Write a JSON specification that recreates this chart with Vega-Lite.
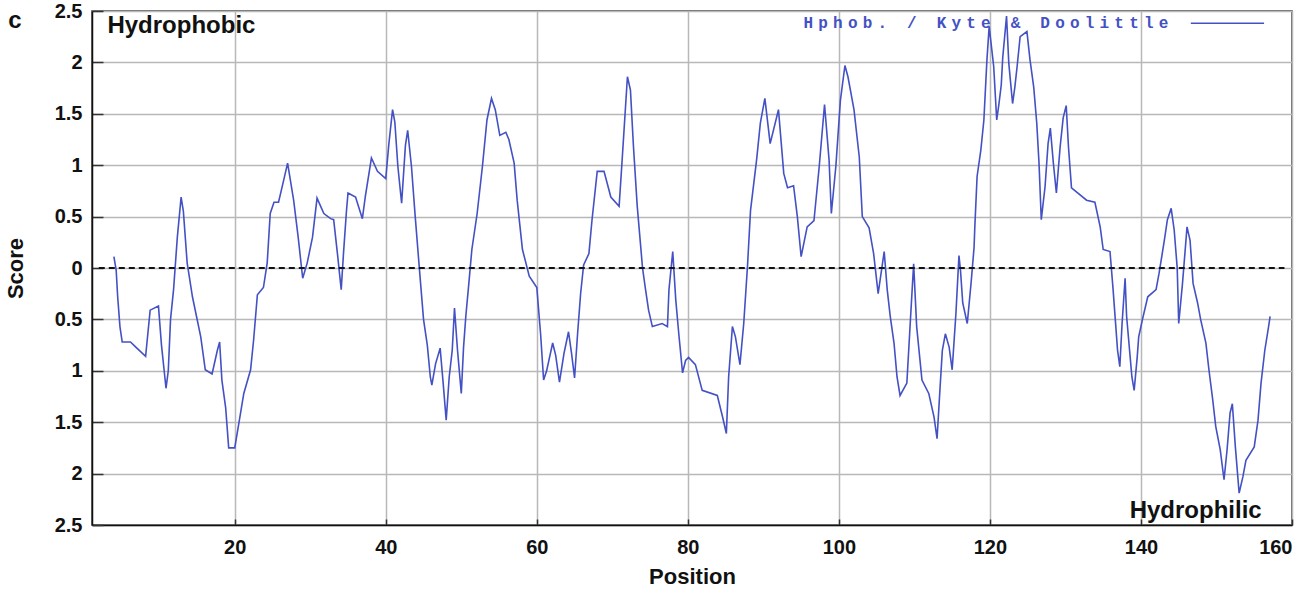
{
  "$schema": "https://vega.github.io/schema/vega-lite/v6.json",
  "width": 1200,
  "height": 514,
  "autosize": {"type": "none"},
  "padding": {"left": 92, "top": 11, "right": 18, "bottom": 66},
  "background": "white",
  "config": {
    "view": {"stroke": "#3a3a3a", "strokeWidth": 1.5},
    "font": "Liberation Sans"
  },
  "datasets": {
    "profile": [
      {"pos": 4.0, "score": 0.11}, {"pos": 4.3, "score": -0.02}, {"pos": 4.5, "score": -0.28}, {"pos": 4.8, "score": -0.57},
      {"pos": 5.1, "score": -0.72}, {"pos": 6.2, "score": -0.72}, {"pos": 6.9, "score": -0.77}, {"pos": 8.2, "score": -0.86},
      {"pos": 8.8, "score": -0.41}, {"pos": 9.9, "score": -0.37}, {"pos": 10.3, "score": -0.75}, {"pos": 10.9, "score": -1.17},
      {"pos": 11.2, "score": -1.0}, {"pos": 11.5, "score": -0.5}, {"pos": 11.9, "score": -0.21}, {"pos": 12.4, "score": 0.3},
      {"pos": 12.9, "score": 0.69}, {"pos": 13.2, "score": 0.55}, {"pos": 13.7, "score": 0.05}, {"pos": 14.4, "score": -0.28},
      {"pos": 15.5, "score": -0.67}, {"pos": 16.1, "score": -0.99}, {"pos": 17.0, "score": -1.03}, {"pos": 17.7, "score": -0.8},
      {"pos": 18.0, "score": -0.72}, {"pos": 18.3, "score": -1.09}, {"pos": 18.8, "score": -1.36}, {"pos": 19.2, "score": -1.75},
      {"pos": 20.0, "score": -1.75}, {"pos": 20.5, "score": -1.53}, {"pos": 21.2, "score": -1.22}, {"pos": 22.1, "score": -0.99},
      {"pos": 22.5, "score": -0.7}, {"pos": 23.0, "score": -0.26}, {"pos": 23.8, "score": -0.19}, {"pos": 24.3, "score": 0.05},
      {"pos": 24.7, "score": 0.53}, {"pos": 25.2, "score": 0.64}, {"pos": 25.8, "score": 0.64}, {"pos": 26.5, "score": 0.86},
      {"pos": 27.0, "score": 1.02}, {"pos": 27.8, "score": 0.66}, {"pos": 28.4, "score": 0.3}, {"pos": 29.0, "score": -0.1},
      {"pos": 29.6, "score": 0.05}, {"pos": 30.3, "score": 0.3}, {"pos": 30.9, "score": 0.68}, {"pos": 31.8, "score": 0.53},
      {"pos": 32.7, "score": 0.48}, {"pos": 33.1, "score": 0.47}, {"pos": 33.6, "score": 0.14}, {"pos": 34.1, "score": -0.21},
      {"pos": 34.4, "score": 0.14}, {"pos": 34.8, "score": 0.56}, {"pos": 35.0, "score": 0.73}, {"pos": 36.0, "score": 0.69},
      {"pos": 36.9, "score": 0.48}, {"pos": 37.3, "score": 0.7}, {"pos": 38.1, "score": 1.07}, {"pos": 38.9, "score": 0.94},
      {"pos": 40.0, "score": 0.87}, {"pos": 40.4, "score": 1.2}, {"pos": 40.9, "score": 1.54}, {"pos": 41.2, "score": 1.42},
      {"pos": 41.6, "score": 0.99}, {"pos": 42.1, "score": 0.63}, {"pos": 42.6, "score": 1.19}, {"pos": 42.9, "score": 1.34},
      {"pos": 43.4, "score": 0.99}, {"pos": 43.9, "score": 0.5}, {"pos": 44.4, "score": 0.04}, {"pos": 45.0, "score": -0.5},
      {"pos": 45.5, "score": -0.75}, {"pos": 45.9, "score": -1.06}, {"pos": 46.1, "score": -1.14}, {"pos": 46.6, "score": -0.93},
      {"pos": 47.2, "score": -0.78}, {"pos": 47.6, "score": -1.12}, {"pos": 48.0, "score": -1.48}, {"pos": 48.4, "score": -1.06},
      {"pos": 48.8, "score": -0.8}, {"pos": 49.1, "score": -0.39}, {"pos": 49.5, "score": -0.8}, {"pos": 50.0, "score": -1.22},
      {"pos": 50.3, "score": -0.77}, {"pos": 50.6, "score": -0.47}, {"pos": 51.0, "score": -0.15}, {"pos": 51.4, "score": 0.18},
      {"pos": 52.1, "score": 0.53}, {"pos": 52.8, "score": 0.99}, {"pos": 53.4, "score": 1.44}, {"pos": 54.0, "score": 1.65},
      {"pos": 54.5, "score": 1.54}, {"pos": 55.1, "score": 1.29}, {"pos": 55.9, "score": 1.32}, {"pos": 56.3, "score": 1.25},
      {"pos": 57.0, "score": 1.02}, {"pos": 57.4, "score": 0.66}, {"pos": 58.1, "score": 0.18}, {"pos": 59.0, "score": -0.08},
      {"pos": 60.0, "score": -0.19}, {"pos": 60.5, "score": -0.64}, {"pos": 60.9, "score": -1.09}, {"pos": 61.3, "score": -1.0},
      {"pos": 62.1, "score": -0.73}, {"pos": 62.5, "score": -0.85}, {"pos": 63.0, "score": -1.11}, {"pos": 63.6, "score": -0.83},
      {"pos": 64.2, "score": -0.62}, {"pos": 64.6, "score": -0.83}, {"pos": 65.0, "score": -1.07}, {"pos": 65.4, "score": -0.64},
      {"pos": 65.8, "score": -0.25}, {"pos": 66.2, "score": 0.03}, {"pos": 66.9, "score": 0.14}, {"pos": 67.3, "score": 0.46},
      {"pos": 68.0, "score": 0.94}, {"pos": 68.9, "score": 0.94}, {"pos": 69.8, "score": 0.69}, {"pos": 70.9, "score": 0.6},
      {"pos": 71.3, "score": 1.05}, {"pos": 72.0, "score": 1.86}, {"pos": 72.4, "score": 1.73}, {"pos": 72.8, "score": 1.18},
      {"pos": 73.3, "score": 0.6}, {"pos": 74.0, "score": 0.0}, {"pos": 74.4, "score": -0.21}, {"pos": 74.8, "score": -0.41},
      {"pos": 75.3, "score": -0.57}, {"pos": 76.6, "score": -0.54}, {"pos": 77.3, "score": -0.57}, {"pos": 77.5, "score": -0.21},
      {"pos": 78.0, "score": 0.16}, {"pos": 78.4, "score": -0.31}, {"pos": 78.8, "score": -0.64}, {"pos": 79.3, "score": -1.02},
      {"pos": 79.7, "score": -0.9}, {"pos": 80.1, "score": -0.87}, {"pos": 81.0, "score": -0.94}, {"pos": 81.9, "score": -1.19},
      {"pos": 83.9, "score": -1.24}, {"pos": 84.6, "score": -1.45}, {"pos": 85.1, "score": -1.61}, {"pos": 85.4, "score": -1.06},
      {"pos": 85.9, "score": -0.57}, {"pos": 86.3, "score": -0.67}, {"pos": 86.9, "score": -0.94}, {"pos": 87.4, "score": -0.54},
      {"pos": 87.9, "score": 0.02}, {"pos": 88.3, "score": 0.56}, {"pos": 89.1, "score": 1.05}, {"pos": 89.6, "score": 1.41},
      {"pos": 90.2, "score": 1.65}, {"pos": 90.9, "score": 1.21}, {"pos": 92.0, "score": 1.54}, {"pos": 92.7, "score": 0.92},
      {"pos": 93.2, "score": 0.78}, {"pos": 94.0, "score": 0.8}, {"pos": 94.5, "score": 0.5}, {"pos": 95.0, "score": 0.11},
      {"pos": 95.8, "score": 0.4}, {"pos": 96.7, "score": 0.46}, {"pos": 97.4, "score": 0.99}, {"pos": 98.1, "score": 1.59},
      {"pos": 98.7, "score": 1.05}, {"pos": 99.0, "score": 0.53}, {"pos": 99.6, "score": 0.99}, {"pos": 100.2, "score": 1.63},
      {"pos": 100.8, "score": 1.97}, {"pos": 101.2, "score": 1.86}, {"pos": 102.0, "score": 1.54}, {"pos": 102.7, "score": 1.08},
      {"pos": 103.1, "score": 0.5}, {"pos": 104.0, "score": 0.39}, {"pos": 104.6, "score": 0.14}, {"pos": 105.2, "score": -0.25},
      {"pos": 106.0, "score": 0.16}, {"pos": 106.4, "score": -0.21}, {"pos": 106.8, "score": -0.47}, {"pos": 107.3, "score": -0.73},
      {"pos": 107.7, "score": -1.06}, {"pos": 108.1, "score": -1.24}, {"pos": 109.0, "score": -1.12}, {"pos": 109.5, "score": -0.47},
      {"pos": 109.9, "score": 0.04}, {"pos": 110.3, "score": -0.57}, {"pos": 111.0, "score": -1.09}, {"pos": 111.9, "score": -1.22},
      {"pos": 112.6, "score": -1.45}, {"pos": 113.0, "score": -1.66}, {"pos": 113.4, "score": -1.16}, {"pos": 113.7, "score": -0.8},
      {"pos": 114.1, "score": -0.64}, {"pos": 114.6, "score": -0.77}, {"pos": 115.0, "score": -0.99}, {"pos": 115.5, "score": -0.44},
      {"pos": 115.9, "score": 0.12}, {"pos": 116.1, "score": -0.02}, {"pos": 116.4, "score": -0.34}, {"pos": 117.0, "score": -0.54},
      {"pos": 117.5, "score": -0.15}, {"pos": 117.9, "score": 0.2}, {"pos": 118.0, "score": 0.4}, {"pos": 118.3, "score": 0.89},
      {"pos": 118.8, "score": 1.15}, {"pos": 119.2, "score": 1.44}, {"pos": 119.6, "score": 2.02}, {"pos": 119.9, "score": 2.35},
      {"pos": 120.1, "score": 2.22}, {"pos": 120.5, "score": 1.96}, {"pos": 120.9, "score": 1.44}, {"pos": 121.2, "score": 1.6},
      {"pos": 121.5, "score": 1.78}, {"pos": 121.7, "score": 2.05}, {"pos": 122.2, "score": 2.45}, {"pos": 122.5, "score": 1.99},
      {"pos": 123.0, "score": 1.6}, {"pos": 123.3, "score": 1.76}, {"pos": 123.6, "score": 1.96}, {"pos": 124.0, "score": 2.25},
      {"pos": 124.9, "score": 2.3}, {"pos": 125.3, "score": 2.03}, {"pos": 125.8, "score": 1.76}, {"pos": 126.2, "score": 1.41},
      {"pos": 126.5, "score": 1.02}, {"pos": 126.8, "score": 0.47}, {"pos": 127.3, "score": 0.79}, {"pos": 127.7, "score": 1.21},
      {"pos": 128.0, "score": 1.36}, {"pos": 128.4, "score": 1.02}, {"pos": 128.8, "score": 0.73}, {"pos": 129.3, "score": 1.18},
      {"pos": 129.7, "score": 1.46}, {"pos": 130.1, "score": 1.58}, {"pos": 130.4, "score": 1.18}, {"pos": 130.8, "score": 0.78},
      {"pos": 132.8, "score": 0.66}, {"pos": 133.9, "score": 0.64}, {"pos": 134.6, "score": 0.4}, {"pos": 135.0, "score": 0.18},
      {"pos": 135.9, "score": 0.16}, {"pos": 136.3, "score": -0.2}, {"pos": 136.6, "score": -0.5}, {"pos": 136.9, "score": -0.8},
      {"pos": 137.2, "score": -0.96}, {"pos": 137.5, "score": -0.54}, {"pos": 137.9, "score": -0.1}, {"pos": 138.1, "score": -0.47},
      {"pos": 138.8, "score": -1.06}, {"pos": 139.1, "score": -1.19}, {"pos": 139.5, "score": -0.87}, {"pos": 139.7, "score": -0.67},
      {"pos": 140.2, "score": -0.5}, {"pos": 140.9, "score": -0.28}, {"pos": 142.0, "score": -0.21}, {"pos": 142.4, "score": -0.05},
      {"pos": 143.1, "score": 0.27}, {"pos": 143.5, "score": 0.47}, {"pos": 144.0, "score": 0.58}, {"pos": 144.4, "score": 0.37},
      {"pos": 144.8, "score": 0.0}, {"pos": 145.0, "score": -0.54}, {"pos": 145.5, "score": -0.15}, {"pos": 146.1, "score": 0.4},
      {"pos": 146.5, "score": 0.27}, {"pos": 146.9, "score": -0.15}, {"pos": 147.5, "score": -0.34}, {"pos": 147.9, "score": -0.5},
      {"pos": 148.6, "score": -0.73}, {"pos": 149.0, "score": -0.99}, {"pos": 149.5, "score": -1.28}, {"pos": 149.9, "score": -1.54},
      {"pos": 150.5, "score": -1.77}, {"pos": 151.0, "score": -2.06}, {"pos": 151.4, "score": -1.77}, {"pos": 151.8, "score": -1.41},
      {"pos": 152.1, "score": -1.32}, {"pos": 152.5, "score": -1.74}, {"pos": 153.0, "score": -2.19}, {"pos": 153.5, "score": -2.03},
      {"pos": 153.9, "score": -1.87}, {"pos": 155.0, "score": -1.74}, {"pos": 155.5, "score": -1.48}, {"pos": 155.9, "score": -1.12},
      {"pos": 156.4, "score": -0.8}, {"pos": 156.9, "score": -0.57}, {"pos": 157.1, "score": -0.47}
    ],
    "labels": [
      {"pos": 3.14, "score": 2.29, "text": "Hydrophobic"},
      {"pos": 138.5, "score": -2.435, "text": "Hydrophilic"},
      {"pos": -10.0, "score": 2.33, "text": "c"}
    ],
    "legendchars": [
      {"pos": 95.95, "ch": "H"}, {"pos": 97.91, "ch": "p"}, {"pos": 99.87, "ch": "h"}, {"pos": 101.83, "ch": "o"},
      {"pos": 103.79, "ch": "b"}, {"pos": 105.75, "ch": "."}, {"pos": 109.67, "ch": "/"}, {"pos": 113.59, "ch": "K"},
      {"pos": 115.55, "ch": "y"}, {"pos": 117.51, "ch": "t"}, {"pos": 119.47, "ch": "e"}, {"pos": 123.39, "ch": "&"},
      {"pos": 127.31, "ch": "D"}, {"pos": 129.27, "ch": "o"}, {"pos": 131.23, "ch": "o"}, {"pos": 133.19, "ch": "l"},
      {"pos": 135.15, "ch": "i"}, {"pos": 137.11, "ch": "t"}, {"pos": 139.07, "ch": "t"}, {"pos": 141.03, "ch": "l"},
      {"pos": 142.99, "ch": "e"}
    ]
  },
  "layer": [
    {
      "data": {"name": "profile"},
      "mark": {"type": "line", "color": "#4451c4", "strokeWidth": 1.6, "interpolate": "linear"},
      "encoding": {
        "x": {
          "field": "pos", "type": "quantitative",
          "scale": {"domain": [1.1, 160], "nice": false},
          "axis": {
            "title": "Position", "values": [20, 40, 60, 80, 100, 120, 140, 160],
            "grid": true, "gridColor": "#b8b8b8", "gridWidth": 1.5,
            "domainColor": "#111111", "domainWidth": 1.5,
            "tickColor": "#333333", "tickSize": -6, "tickWidth": 1.5,
            "labelPadding": 18, "labelFont": "Liberation Sans", "labelFontSize": 20, "labelFontWeight": "bold", "labelColor": "#111111",
            "titleFont": "Liberation Sans", "titleFontSize": 22, "titleFontWeight": "bold", "titleColor": "#111111", "titlePadding": 9
          }
        },
        "y": {
          "field": "score", "type": "quantitative",
          "scale": {"domain": [-2.5, 2.5], "nice": false},
          "axis": {
            "title": "Score", "values": [-2.5, -2, -1.5, -1, -0.5, 0, 0.5, 1, 1.5, 2, 2.5],
            "labelExpr": "format(abs(datum.value), '')",
            "grid": true, "gridColor": "#b8b8b8", "gridWidth": 1.5,
            "domainColor": "#111111", "domainWidth": 1.5,
            "tickColor": "#333333", "tickSize": -11, "tickWidth": 1.5,
            "labelPadding": 21, "labelFont": "Liberation Sans", "labelFontSize": 20, "labelFontWeight": "bold", "labelColor": "#111111",
            "titleFont": "Liberation Sans", "titleFontSize": 22, "titleFontWeight": "bold", "titleColor": "#111111", "titlePadding": 27
          }
        }
      }
    },
    {
      "data": {"values": [{"x": 2, "x2": 159, "y": 0}]},
      "mark": {"type": "rule", "color": "#111111", "strokeWidth": 2, "strokeDash": [6, 4]},
      "encoding": {
        "x": {"field": "x", "type": "quantitative", "title": "Position"},
        "x2": {"field": "x2"},
        "y": {"field": "y", "type": "quantitative", "title": "Score"}
      }
    },
    {
      "data": {"name": "labels"},
      "mark": {"type": "text", "font": "Liberation Sans", "fontWeight": "bold", "fontSize": 24, "color": "#111111", "align": "left", "baseline": "alphabetic"},
      "encoding": {
        "x": {"field": "pos", "type": "quantitative", "title": "Position"},
        "y": {"field": "score", "type": "quantitative", "title": "Score"},
        "text": {"field": "text"}
      }
    },
    {
      "data": {"name": "legendchars"},
      "mark": {"type": "text", "font": "Liberation Mono", "fontSize": 16, "fontWeight": "bold", "color": "#4451c4", "align": "center", "baseline": "middle"},
      "encoding": {
        "x": {"field": "pos", "type": "quantitative", "title": "Position"},
        "y": {"datum": 2.38, "type": "quantitative", "title": "Score"},
        "text": {"field": "ch"}
      }
    },
    {
      "data": {"values": [{"x": 146.6, "x2": 156.3, "y": 2.38}]},
      "mark": {"type": "rule", "color": "#4451c4", "strokeWidth": 1.5},
      "encoding": {
        "x": {"field": "x", "type": "quantitative", "title": "Position"},
        "x2": {"field": "x2"},
        "y": {"field": "y", "type": "quantitative", "title": "Score"}
      }
    }
  ]
}
